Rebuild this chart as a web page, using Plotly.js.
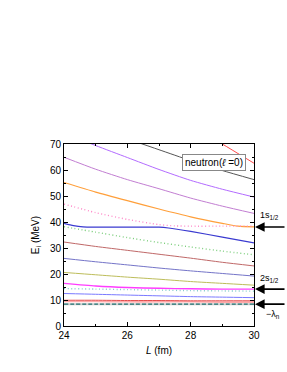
<!DOCTYPE html>
<html><head><meta charset="utf-8">
<script src="https://cdn.plot.ly/plotly-3.0.1.min.js"></script>
<style>html,body{margin:0;padding:0;background:#fff;}#chart{width:287px;height:372px;}</style>
</head><body><div id="chart"></div>
<script>
// Box length L (fm)
const L = [24, 25, 26, 27, 28, 29, 30];
// Energies E_i (MeV) of the discretized continuum states
const redTopL = [28.5, 29, 30];
const redTopE = [73.7, 70.0, 62.6];
const grayL = [26, 27, 28, 29, 30];
const grayE = [72.0, 67.8, 63.6, 59.8, 56.3];
const purpleE = [74.2, 69.4, 64.8, 60.2, 56.0, 52.6, 49.6];
const mauveE = [64.9, 60.3, 56.3, 52.8, 49.2, 46.1, 43.3];
const orangeL = [24, 25, 26, 27, 28, 29, 29.5, 30];
const orangeE = [55.2, 51.5, 48.2, 45.0, 42.0, 39.5, 38.4, 38.1];
const pinkDotL = [24, 25, 26, 27, 27.5, 28, 29, 30];
const pinkDotE = [46.9, 43.6, 41.0, 39.0, 38.5, 38.4, 38.4, 38.4];
const blueL = [24, 24.3, 24.6, 25, 26, 27, 27.3, 28, 29, 30];
const blueE = [39.5, 38.6, 38.1, 38.0, 38.0, 38.0, 37.7, 36.4, 34.2, 32.0];
const greenDotE = [38.2, 36.1, 34.0, 32.1, 30.4, 28.8, 27.4];
const brownE = [32.3, 30.6, 29.1, 27.6, 26.1, 24.5, 23.1];
const slateE = [26.0, 24.7, 23.5, 22.3, 21.2, 20.2, 19.2];
const oliveE = [20.6, 19.7, 18.8, 18.0, 17.1, 16.4, 15.7];
const magentaE = [16.4, 15.4, 14.8, 14.5, 14.3, 14.2, 14.2];
const tealDotE = [14.4, 14.2, 14.0, 13.8, 13.6, 13.5, 13.4];
const lightBlueE = [12.5, 12.2, 11.9, 11.6, 11.3, 11.1, 10.9];
const redE = [9.9, 9.9, 9.8, 9.8, 9.7, 9.7, 9.7];
const salmonE = [9.4, 9.4, 9.3, 9.3, 9.3, 9.2, 9.2];
const lambdaE = [8.4, 8.4, 8.4, 8.4, 8.4, 8.4, 8.4];
// Arrow marks at the right edge
const arrowE = [38.1, 14.2, 8.4];
const arrowLabels = ['1s<sub>1/2</sub>', '2s<sub>1/2</sub>', '−λ<sub>n</sub>'];

const DOT = '1px,2.5px';
function tr(x, y, color, width, dash) {
  return {x: x, y: y, type: 'scatter', mode: 'lines',
    line: {color: color, width: width, dash: dash || 'solid', shape: 'spline', smoothing: 0.6},
    hoverinfo: 'skip', showlegend: false};
}
const data = [
  tr(redTopL, redTopE, '#ff4a4a', 1),
  tr(grayL, grayE, '#555555', 1),
  tr(L, purpleE, '#b36bff', 1),
  tr(L, mauveE, '#c27ed2', 1),
  tr(orangeL, orangeE, '#ff9f3a', 1.2),
  tr(pinkDotL, pinkDotE, '#ff88c8', 1.4, DOT),
  tr(blueL, blueE, '#3a3ad0', 1.2),
  tr(L, greenDotE, '#7fcf7f', 1.4, DOT),
  tr(L, brownE, '#c06868', 1),
  tr(L, slateE, '#7474c8', 1),
  tr(L, oliveE, '#bdbd5a', 1),
  tr(L, magentaE, '#ff3cff', 1.4),
  tr(L, tealDotE, '#80cccc', 1.4, DOT),
  tr(L, lightBlueE, '#7a7aff', 1),
  tr(L, salmonE, '#ffaaaa', 1.6),
  tr(L, redE, '#e03a3a', 0.9),
  tr(L, lambdaE, '#cfcfcf', 2),
  tr(L, lambdaE, '#1f7070', 1.2, '4px,2px')
];

const annotations = [];
arrowE.forEach(function (e, i) {
  annotations.push({x: 30, y: e, xref: 'x', yref: 'y', text: '', showarrow: true,
    axref: 'pixel', ayref: 'pixel', ax: 32, ay: 0, arrowhead: 2, arrowsize: 1.2,
    arrowwidth: 1.6, arrowcolor: '#000', standoff: 1});
});
const lblX = 1.02;
annotations.push({x: lblX, y: arrowE[0], xref: 'paper', yref: 'y', xanchor: 'left', text: arrowLabels[0],
  showarrow: false, yshift: 11, font: {size: 9, color: '#000'}});
annotations.push({x: lblX, y: arrowE[1], xref: 'paper', yref: 'y', xanchor: 'left', text: arrowLabels[1],
  showarrow: false, yshift: 11, font: {size: 9, color: '#000'}});
annotations.push({x: lblX + 0.03, y: arrowE[2], xref: 'paper', yref: 'y', xanchor: 'left', text: arrowLabels[2],
  showarrow: false, yshift: -10, font: {size: 9, color: '#000'}});
annotations.push({x: 0.79, y: 0.90, xref: 'paper', yref: 'paper', xanchor: 'center', yanchor: 'middle',
  text: 'neutron(<i>ℓ</i> =0)',
  showarrow: false, bgcolor: '#fff', bordercolor: '#888', borderwidth: 1, borderpad: 2,
  font: {size: 10, color: '#000'}});

const axisCommon = {showline: true, linecolor: '#000', linewidth: 1, mirror: 'allticks',
  ticks: 'inside', ticklen: 4, tickwidth: 1, tickcolor: '#000', showgrid: false, zeroline: false,
  tickfont: {size: 10, color: '#000'}};

const layout = {
  width: 287, height: 372,
  margin: {l: 64, r: 33, t: 144, b: 46},
  paper_bgcolor: '#fff', plot_bgcolor: '#fff',
  font: {family: 'Liberation Sans, Arial, sans-serif', color: '#000'},
  xaxis: Object.assign({}, axisCommon, {range: [24, 30], dtick: 2, tick0: 24,
    minor: {ticks: 'inside', ticklen: 2, dtick: 1, tickcolor: '#000'},
    title: {text: '<i>L</i> (fm)', font: {size: 10}, standoff: 6}}),
  yaxis: Object.assign({}, axisCommon, {range: [0, 70], dtick: 10, tick0: 0,
    minor: {ticks: 'inside', ticklen: 2, dtick: 5, tickcolor: '#000'},
    title: {text: 'E<sub>i</sub> (MeV)', font: {size: 10}, standoff: 8}}),
  annotations: annotations,
  showlegend: false
};
Plotly.newPlot('chart', data, layout, {staticPlot: true, displayModeBar: false});
</script></body></html>
